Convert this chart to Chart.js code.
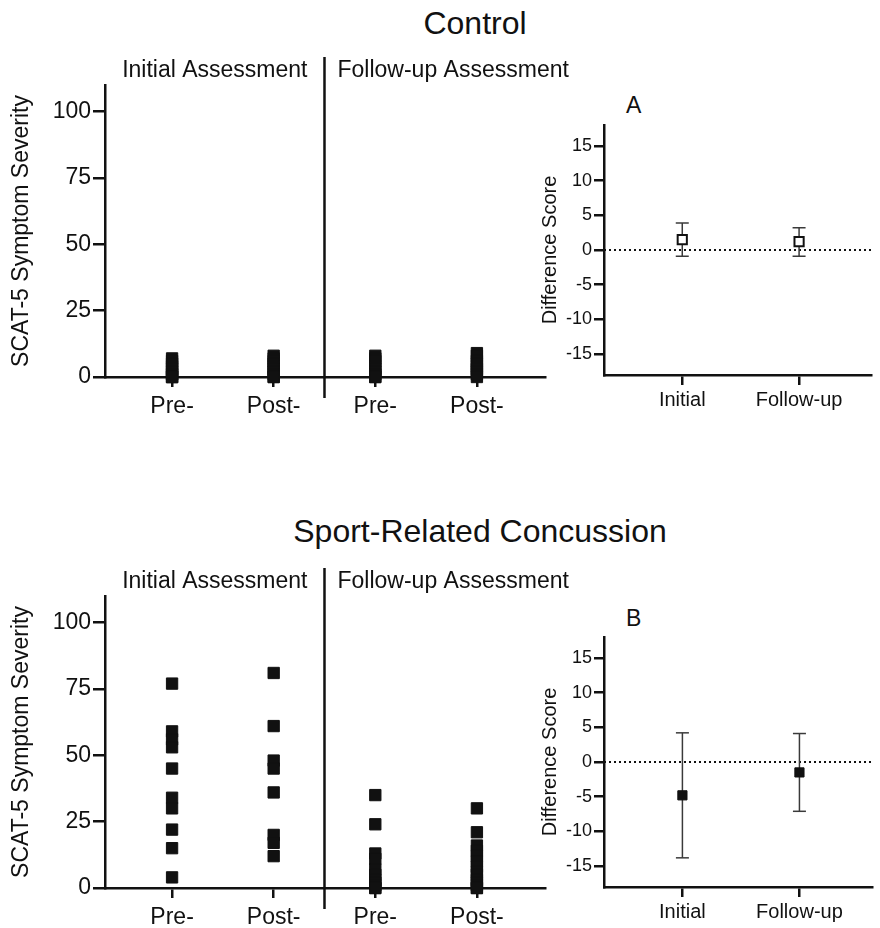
<!DOCTYPE html>
<html>
<head>
<meta charset="utf-8">
<script src="https://cdn.jsdelivr.net/npm/chart.js@4.4.1/dist/chart.umd.min.js"></script>
<style>
  body { margin: 0; background: #fff; width: 880px; height: 928px; position: relative; overflow: hidden;
         font-family: "Liberation Sans", Arial, sans-serif; color: #111; }
  canvas { position: absolute; }
  .title { position: absolute; font-size: 32px; line-height: 32px; white-space: nowrap; transform: translateX(-50%); }
  .tag { position: absolute; font-size: 23px; line-height: 23px; }
</style>
</head>
<body>
<div class="title" style="left:475px; top:7px;">Control</div>
<div class="title" style="left:480px; top:515px;">Sport-Related Concussion</div>
<div class="tag" style="left:626px; top:94px;">A</div>
<div class="tag" style="left:626px; top:607px;">B</div>

<canvas id="ctrlScatter" width="600" height="400" style="left:0; top:40px;"></canvas>
<canvas id="ctrlDiff" width="360" height="340" style="left:520px; top:90px;"></canvas>
<canvas id="srcScatter" width="600" height="400" style="left:0; top:551px;"></canvas>
<canvas id="srcDiff" width="360" height="340" style="left:520px; top:602px;"></canvas>

<script>
const FONT = '"Liberation Sans", Arial, sans-serif';
const INK = "#111";

// tick labels
const groupLabels = ["Pre-", "Post-", "Pre-", "Post-"];
const diffLabels = ["Initial", "Follow-up"];
const severityTicks = [0, 25, 50, 75, 100];
const diffTicks = [-15, -10, -5, 0, 5, 10, 15];

// SCAT-5 symptom severity, control group
const ctrlInitialPre = [7, 6, 5, 4, 3, 2, 1, 1, 0, 0, 0];
const ctrlInitialPost = [8, 7, 6, 5, 4, 3, 2, 1, 0, 0];
const ctrlFollowPre = [8, 7, 6, 4, 3, 2, 1, 0, 0];
const ctrlFollowPost = [9, 8, 6, 5, 4, 3, 2, 1, 0];

// SCAT-5 symptom severity, sport-related concussion group
const srcInitialPre = [77, 59, 56, 53, 45, 34, 30, 22, 15, 4];
const srcInitialPost = [81, 61, 48, 45, 36, 20, 17, 12];
const srcFollowPre = [35, 24, 13, 11, 7, 5, 3, 2, 1, 0, 0];
const srcFollowPost = [30, 21, 16, 14, 12, 10, 8, 6, 5, 3, 2, 1, 0, 0];

// difference scores (mean with error bar limits)
const ctrlDiffMean = [1.5, 1.2];
const ctrlDiffLow = [-0.9, -0.9];
const ctrlDiffHigh = [3.9, 3.2];
const srcDiffMean = [-4.8, -1.5];
const srcDiffLow = [-13.8, -7.1];
const srcDiffHigh = [4.2, 4.1];

// vertical line between initial and follow-up, plus the two sub headings
const dividerPlugin = {
  id: "divider",
  afterDraw(chart) {
    const { ctx, chartArea, scales } = chart;
    const x = scales.x.getPixelForValue(2.5);
    ctx.save();
    ctx.strokeStyle = INK;
    ctx.lineWidth = 2.5;
    ctx.beginPath();
    ctx.moveTo(x, chartArea.top - 28);
    ctx.lineTo(x, chartArea.bottom + 21);
    ctx.stroke();
    ctx.font = "23px " + FONT;
    ctx.fillStyle = INK;
    ctx.textBaseline = "middle";
    ctx.textAlign = "right";
    ctx.fillText("Initial Assessment", x - 17, chartArea.top - 14);
    ctx.textAlign = "left";
    ctx.fillText("Follow-up Assessment", x + 13, chartArea.top - 14);
    ctx.restore();
  }
};

function axisGrid(len) {
  return { display: true, drawOnChartArea: false, drawTicks: true, tickLength: len, color: INK, lineWidth: 2.5 };
}

function scatterChart(id, groups) {
  const datasets = groups.map((vals, i) => ({
    data: vals.map((v) => ({ x: i + 1, y: v })),
    pointStyle: "rect",
    pointRadius: 8,
    backgroundColor: INK,
    borderColor: INK,
    borderWidth: 1,
    clip: false
  }));
  new Chart(document.getElementById(id), {
    type: "scatter",
    data: { datasets: datasets },
    plugins: [dividerPlugin],
    options: {
      responsive: false,
      animation: false,
      layout: { padding: { top: 45, right: 55, left: 0, bottom: 0 } },
      plugins: { legend: { display: false }, tooltip: { enabled: false } },
      scales: {
        x: {
          type: "linear", min: 0.34, max: 4.67,
          afterBuildTicks: (s) => { s.ticks = [1, 2, 3, 4].map((v) => ({ value: v })); },
          afterFit: (s) => { s.height = 63; },
          ticks: { callback: (v, i) => groupLabels[i], font: { size: 23, family: FONT }, color: INK, padding: 6, maxRotation: 0, autoSkip: false },
          grid: axisGrid(10),
          border: { display: true, color: INK, width: 2.5 }
        },
        y: {
          min: 0, max: 110,
          afterBuildTicks: (s) => { s.ticks = severityTicks.map((v) => ({ value: v })); },
          afterFit: (s) => { s.width = 105; },
          ticks: { font: { size: 23, family: FONT }, color: INK, padding: 2 },
          grid: axisGrid(12),
          border: { display: true, color: INK, width: 2.5 },
          title: { display: true, text: "SCAT-5 Symptom Severity", font: { size: 23, family: FONT }, color: INK, padding: { top: 8, bottom: 0 } }
        }
      }
    }
  });
}

function diffChart(id, mean, low, high, hollow) {
  const xMin = 0.33, xMax = 2.62;
  const datasets = [{
    data: mean.map((m, i) => ({ x: i + 1, y: m })),
    pointStyle: "rect",
    pointRadius: 6.5,
    backgroundColor: hollow ? "#fff" : INK,
    borderColor: INK,
    borderWidth: hollow ? 2 : 1
  }];
  mean.forEach((m, i) => {
    datasets.push({
      data: [{ x: i + 1, y: low[i] }, { x: i + 1, y: high[i] }],
      showLine: true,
      borderColor: "#3a3a3a",
      borderWidth: 1.5,
      pointStyle: "line",
      pointRadius: 6.5,
      pointBorderWidth: 1.5,
      pointBorderColor: "#3a3a3a"
    });
  });
  datasets.push({
    data: [{ x: xMin, y: 0 }, { x: xMax, y: 0 }],
    showLine: true,
    borderColor: INK,
    borderWidth: 2,
    borderDash: [2, 3],
    pointRadius: 0
  });
  new Chart(document.getElementById(id), {
    type: "scatter",
    data: { datasets: datasets },
    options: {
      responsive: false,
      animation: false,
      layout: { padding: { top: 35, right: 0, left: 0, bottom: 0 } },
      plugins: { legend: { display: false }, tooltip: { enabled: false } },
      scales: {
        x: {
          type: "linear", min: xMin, max: xMax,
          afterBuildTicks: (s) => { s.ticks = [1, 2].map((v) => ({ value: v })); },
          afterFit: (s) => { s.height = 55; },
          ticks: { callback: (v, i) => diffLabels[i], font: { size: 20, family: FONT }, color: INK, padding: 3, maxRotation: 0, autoSkip: false },
          grid: axisGrid(10),
          border: { display: true, color: INK, width: 2.5 }
        },
        y: {
          min: -18, max: 18,
          afterBuildTicks: (s) => { s.ticks = diffTicks.map((v) => ({ value: v })); },
          afterFit: (s) => { s.width = 84; },
          ticks: { font: { size: 18, family: FONT }, color: INK, padding: 2 },
          grid: axisGrid(10),
          border: { display: true, color: INK, width: 2.5 },
          title: { display: true, text: "Difference Score", font: { size: 20, family: FONT }, color: INK, padding: { top: 18, bottom: 0 } }
        }
      }
    }
  });
}

scatterChart("ctrlScatter", [ctrlInitialPre, ctrlInitialPost, ctrlFollowPre, ctrlFollowPost]);
scatterChart("srcScatter", [srcInitialPre, srcInitialPost, srcFollowPre, srcFollowPost]);
diffChart("ctrlDiff", ctrlDiffMean, ctrlDiffLow, ctrlDiffHigh, true);
diffChart("srcDiff", srcDiffMean, srcDiffLow, srcDiffHigh, false);
</script>
</body>
</html>
